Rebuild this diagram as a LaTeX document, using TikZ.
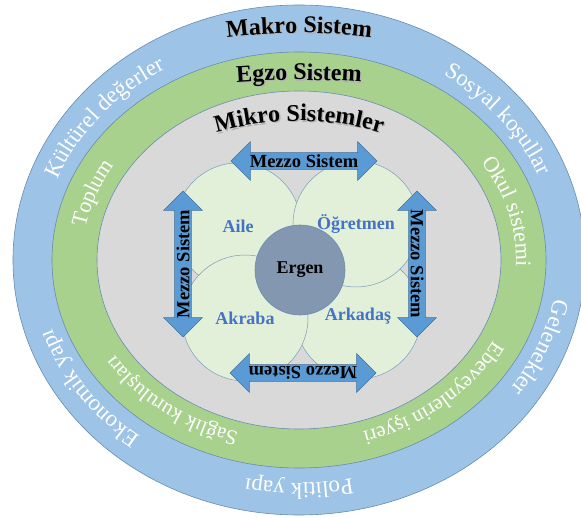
\documentclass[tikz,border=0pt]{standalone}
\usepackage{fontspec}
\setmainfont{Liberation Serif}
\usepackage{xcolor}
\usepackage{tikz}
\usetikzlibrary{shapes.arrows,decorations.text,positioning}

\definecolor{makroblue}{HTML}{9DC3E6}
\definecolor{egzogreen}{HTML}{A9D18E}
\definecolor{mikrogray}{HTML}{D9D9D9}
\definecolor{petalgreen}{HTML}{E2F0D9}
\definecolor{ergenblue}{HTML}{8497B0}
\definecolor{arrowblue}{HTML}{5B9BD5}
\definecolor{edgeblue}{HTML}{41719C}
\definecolor{labelblue}{HTML}{4472C4}

\newcommand{\titlefont}{\bfseries\fontsize{24}{26}\selectfont}
\newcommand{\outerfont}{\fontsize{23}{25}\selectfont}
\newcommand{\innerfont}{\fontsize{22}{24}\selectfont}
\newcommand{\smallinnerfont}{\fontsize{21}{23}\selectfont}

\tikzset{
  ring/.style={draw=edgeblue!80, line width=.6pt},
  petal/.style={circle, draw=edgeblue!70, line width=.5pt, fill=petalgreen,
    minimum size=126pt, inner sep=0pt, text=labelblue,
    font=\bfseries\fontsize{18}{20}\selectfont},
  mezzo/.style={double arrow, fill=arrowblue, draw=edgeblue, line width=.5pt,
    double arrow head extend=11pt, minimum height=146pt, minimum width=0pt,
    inner xsep=0pt, inner ysep=1.8pt, text height=12.5pt, text depth=0pt,
    font=\bfseries\fontsize{18.5}{19}\selectfont},
  ringtext/.style={decorate, decoration={text along path, text align=center, text={#1}}}
}

\begin{document}
\begin{tikzpicture}[x=1pt, y=1pt]
\useasboundingbox (0,0) rectangle (581,517);

\begin{scope}[shift={(299,257)}]
% the three systems
\draw[ring, fill=makroblue] (0,0) ellipse[x radius=286, y radius=255];
\draw[ring, fill=egzogreen] (0,0) ellipse[x radius=247, y radius=208];
\draw[ring, fill=mikrogray] (0,0) ellipse[x radius=202, y radius=169];

% titles
\foreach \off/\ink in {1.3/black!30, 0/black}{
  \path[xshift=\off, yshift=-\off, ringtext={|\titlefont\color{\ink}|Makro Sistem}]
    (115:361 and 227) arc[start angle=115, end angle=65, x radius=361, y radius=227];
  \path[xshift=\off, yshift=-\off, ringtext={|\titlefont\color{\ink}|Egzo Sistem}]
    (110:400 and 180) arc[start angle=110, end angle=70, x radius=400, y radius=180];
  \path[xshift=\off, yshift=-\off, ringtext={|\titlefont\color{\ink}|Mikro Sistemler}]
    (130:203 and 139) arc[start angle=130, end angle=50, x radius=203, y radius=139];
}

% makro ring
\path[ringtext={|\outerfont\color{white}|Kültürel değerler}]
  (192:259 and 223) arc[start angle=192, end angle=92, x radius=259, y radius=223];
\path[ringtext={|\outerfont\color{white}|Sosyal koşullar}]
  (87:259 and 223) arc[start angle=87, end angle=-13, x radius=259, y radius=223];
\path[ringtext={|\outerfont\color{white}|Gelenekler}]
  (29:259 and 223) arc[start angle=29, end angle=-71, x radius=259, y radius=223];
\path[ringtext={|\outerfont\color{white}|Politik yapı}]
  (-40:259 and 223) arc[start angle=-40, end angle=-140, x radius=259, y radius=223];
\path[ringtext={|\outerfont\color{white}|Ekonomik yapı}]
  (-97:259 and 223) arc[start angle=-97, end angle=-197, x radius=259, y radius=223];

% egzo ring
\path[ringtext={|\innerfont\color{white}|Toplum}]
  (211:217 and 180) arc[start angle=211, end angle=111, x radius=217, y radius=180];
\path[ringtext={|\innerfont\color{white}|Okul sistemi}]
  (64:217 and 180) arc[start angle=64, end angle=-36, x radius=217, y radius=180];
\path[ringtext={|\smallinnerfont\color{white}|Ebeveynlerin işyeri}]
  (8:217 and 180) arc[start angle=8, end angle=-102, x radius=217, y radius=180];
\path[ringtext={|\smallinnerfont\color{white}|Sağlık kuruluşları}]
  (-75:217 and 180) arc[start angle=-75, end angle=-185, x radius=217, y radius=180];
\end{scope}

% mikro systems
\node[petal] (aile) at (238,291) {Aile};
\node[petal] (arkadas) at (358,201) {Arkadaş};
\node[petal] (akraba) at (245,199) {Akraba};
\node[petal] (ogretmen) at (356,293) {Öğretmen};
\node[circle, fill=ergenblue, draw=edgeblue!80, line width=.6pt, minimum size=90pt,
  font=\bfseries\fontsize{18}{20}\selectfont] (ergen) at (300,247) {Ergen};

% mezzo system arrows
\node[mezzo] (mezzotop) at (304,356) {Mezzo Sistem};
\node[mezzo, rotate=90] (mezzoleft) at (183,253) {Mezzo Sistem};
\node[mezzo, rotate=-90] (mezzoright) at (417,253) {Mezzo Sistem};
\node[mezzo, rotate=180] (mezzobottom) at (303,144) {Mezzo Sistem};

\end{tikzpicture}
\end{document}
